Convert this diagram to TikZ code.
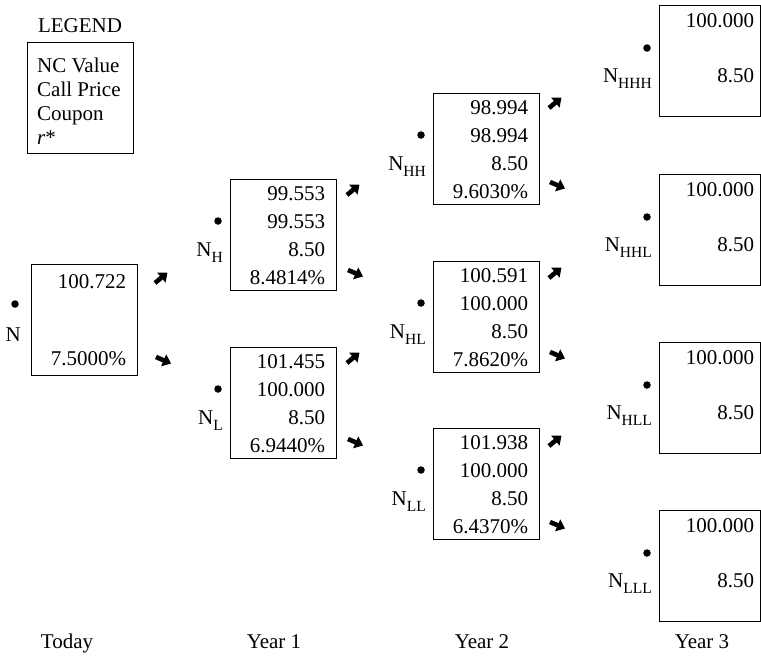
\documentclass[tikz,border=0pt]{standalone}
\usepackage{fontspec}
\setmainfont{Liberation Serif}
\usetikzlibrary{calc,arrows.meta}
\newcommand\Nsub[1]{N\raisebox{-0.3em}{\fontsize{15.5}{15.5}\selectfont #1}}
\tikzset{
  box/.style={draw, line width=1.2pt, minimum width=106pt, minimum height=111pt, inner sep=0pt, anchor=north west},
  val/.style={anchor=base east, inner sep=0pt, font=\fontsize{21}{24}\selectfont},
  lbl/.style={anchor=base east, inner sep=0pt, font=\fontsize{21}{24}\selectfont},
  txt/.style={inner sep=0pt, font=\fontsize{21}{24}\selectfont},
  dotn/.style={circle, fill, inner sep=0pt, minimum size=7.5pt},
  fat/.style={line width=4.6pt, -{Triangle[length=8pt,width=12.5pt]}},
}
% four-row box: name, x, y(top), r1, r2, r3, r4, label
\newcommand\fourbox[8]{%
  \node[box] (#1) at (#2,#3) {};
  \node[val] (#1-1) at ($(#1.north east)+(-12,21)$) {#4};
  \node[val] (#1-2) at ($(#1.north east)+(-12,49)$) {#5};
  \node[val] (#1-3) at ($(#1.north east)+(-12,77)$) {#6};
  \node[val] (#1-4) at ($(#1.north east)+(-12,105)$) {#7};
  \node[dotn] (#1-d) at ($(#1.north west)+(-12,42)$) {};
  \node[lbl] (#1-l) at ($(#1.north west)+(-7,77)$) {#8};
}
% two-row box (year 3)
\newcommand\twobox[5]{%
  \node[box, minimum width=101pt] (#1) at (#2,#3) {};
  \node[val] (#1-1) at ($(#1.north east)+(-7,22)$) {#4};
  \node[val] (#1-3) at ($(#1.north east)+(-7,77)$) {8.50};
  \node[dotn] (#1-d) at ($(#1.north west)+(-12,43)$) {};
  \node[lbl] (#1-l) at ($(#1.north west)+(-7,77)$) {#5};
}
% arrows: name, cx, cy
\newcommand\uparr[3]{%
  \coordinate (#1s) at ($(#2,#3)+(-6,5)$);
  \coordinate (#1e) at ($(#2,#3)+(6.5,-5.5)$);
  \draw[fat] (#1s) -- (#1e);
}
\newcommand\dnarr[3]{%
  \coordinate (#1s) at ($(#2,#3)+(-7,-3)$);
  \coordinate (#1e) at ($(#2,#3)+(8,3.5)$);
  \draw[fat] (#1s) -- (#1e);
}
\begin{document}
\begin{tikzpicture}[x=1pt, y=-1pt]
\useasboundingbox (0,0) rectangle (761,656);

% legend
\node[txt, anchor=base] (legt) at (80,32) {LEGEND};
\node[box] (leg) at (27,42) {};
\node[txt, anchor=base west] (leg1) at (37,72) {NC Value};
\node[txt, anchor=base west] (leg2) at (37,96) {Call Price};
\node[txt, anchor=base west] (leg3) at (37,120) {Coupon};
\node[txt, anchor=base west] (leg4) at (37,144) {\textit{r}*};

% today
\node[box] (N) at (31,264) {};
\node[val] (N-1) at ($(N.north east)+(-12,24)$) {100.722};
\node[val] (N-4) at ($(N.north east)+(-12,101)$) {7.5000\%};
\node[dotn] (N-d) at (15,304) {};
\node[lbl] (N-l) at (21,341) {N};

% year 1
\fourbox{H}{230}{179}{99.553}{99.553}{8.50}{8.4814\%}{\Nsub{H}}
\fourbox{L}{230}{347}{101.455}{100.000}{8.50}{6.9440\%}{\Nsub{L}}

% year 2
\fourbox{HH}{433}{93}{98.994}{98.994}{8.50}{9.6030\%}{\Nsub{HH}}
\fourbox{HL}{433}{261}{100.591}{100.000}{8.50}{7.8620\%}{\Nsub{HL}}
\fourbox{LL}{433}{428}{101.938}{100.000}{8.50}{6.4370\%}{\Nsub{LL}}

% year 3
\twobox{HHH}{659}{5}{100.000}{\Nsub{HHH}}
\twobox{HHL}{659}{174}{100.000}{\Nsub{HHL}}
\twobox{HLL}{659}{342}{100.000}{\Nsub{HLL}}
\twobox{LLL}{659}{510}{100.000}{\Nsub{LLL}}

% arrows
\uparr{a0u}{161}{278}
\dnarr{a0d}{163}{360}
\uparr{a1u}{353}{190}
\dnarr{a1d}{355}{273}
\uparr{a2u}{353}{358}
\dnarr{a2d}{355}{442}
\uparr{a3u}{555}{103}
\dnarr{a3d}{557}{185}
\uparr{a4u}{555}{273}
\dnarr{a4d}{557}{355}
\uparr{a5u}{555}{441}
\dnarr{a5d}{557}{525}

% time axis labels
\node[txt, anchor=base] (t0) at (67,648) {Today};
\node[txt, anchor=base] (t1) at (274,648) {Year 1};
\node[txt, anchor=base] (t2) at (482,648) {Year 2};
\node[txt, anchor=base] (t3) at (702,648) {Year 3};
\end{tikzpicture}
\end{document}
